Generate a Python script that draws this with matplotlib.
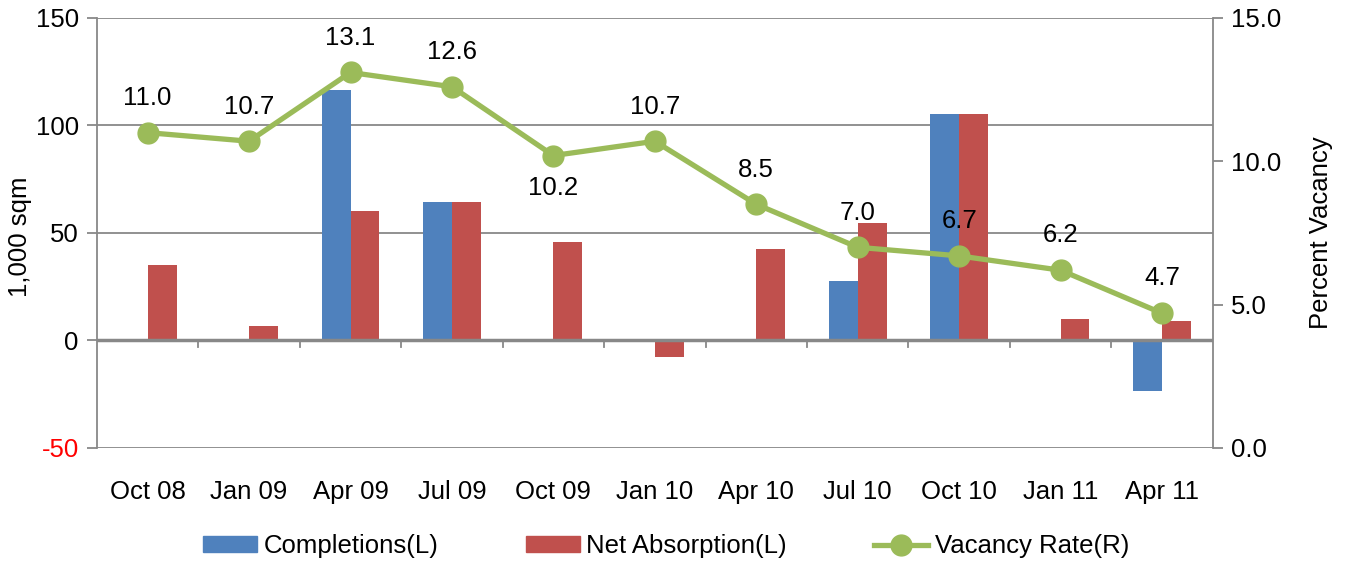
import numpy as np
import matplotlib.pyplot as plt
from matplotlib.lines import Line2D
from matplotlib.patches import Patch

plt.rcParams['font.family'] = ['Liberation Sans', 'DejaVu Sans']
plt.rcParams['axes.unicode_minus'] = False

quarters = ['Oct 08', 'Jan 09', 'Apr 09', 'Jul 09', 'Oct 09', 'Jan 10',
            'Apr 10', 'Jul 10', 'Oct 10', 'Jan 11', 'Apr 11']
completions = [0, 0, 116.5, 64.5, 0, 0, 0, 27.5, 105.5, 0, -23.5]
net_absorption = [35, 6.5, 60, 64.5, 46, -7.5, 42.5, 54.5, 105.5, 10, 9]
vacancy = [11.0, 10.7, 13.1, 12.6, 10.2, 10.7, 8.5, 7.0, 6.7, 6.2, 4.7]

blue = '#4F81BD'
red = '#C0504D'
green = '#9BBB59'
grey = '#888888'
fs = 18.5

fig = plt.figure(figsize=(13.46, 5.62), dpi=100)
ax = fig.add_axes([0.072, 0.203, 0.829, 0.765])
ax2 = ax.twinx()

x = np.arange(len(quarters))
w = 0.285
ax.bar(x - w / 2, completions, w, color=blue, zorder=3)
ax.bar(x + w / 2, net_absorption, w, color=red, zorder=3)

ax.set_xlim(-0.5, len(quarters) - 0.5)
ax.set_ylim(-50, 150)
ax.set_yticks([-50, 0, 50, 100, 150])
ax.yaxis.grid(True, color=grey, linewidth=1.3, zorder=0)
ax.axhline(0, color=grey, linewidth=2.5, zorder=4)
for s in ['top', 'right', 'bottom']:
    ax.spines[s].set_visible(False)
ax.spines['left'].set_color(grey)
ax.spines['left'].set_linewidth(1.3)
ax.tick_params(axis='y', colors=grey, length=7, width=1.3, labelsize=fs,
               labelcolor='black', pad=6)
ax.get_yticklabels()[0].set_color('red')
ax.set_ylabel('1,000 sqm', fontsize=fs)
ax.yaxis.set_label_coords(-0.058, 0.49)

# category labels below plot, tick marks at boundaries on zero line
ax.set_xticks([])
for i, q in enumerate(quarters):
    ax.text(i, -65, q, ha='center', va='top', fontsize=fs, clip_on=False)
for b in np.arange(0.5, len(quarters) - 0.5):
    ax.plot([b, b], [0, -3], color=grey, linewidth=1.3, zorder=4)

ax2.plot(x, vacancy, color=green, linewidth=3.8, marker='o', markersize=15,
         zorder=5)
ax2.set_ylim(0, 15)
ax2.set_yticks([0, 5, 10, 15])
ax2.set_yticklabels(['0.0', '5.0', '10.0', '15.0'])
for s in ['top', 'left', 'bottom']:
    ax2.spines[s].set_visible(False)
ax2.spines['right'].set_color(grey)
ax2.spines['right'].set_linewidth(1.3)
ax2.tick_params(axis='y', colors=grey, length=7, width=1.3, labelsize=fs,
                labelcolor='black', pad=6)
ax2.set_ylabel('Percent Vacancy', fontsize=fs, labelpad=20)

for i, v in enumerate(vacancy):
    off = -23 if quarters[i] == 'Oct 09' else 25
    ax2.annotate(f'{v:.1f}', (i, v), xytext=(0, off), textcoords='offset points',
                 ha='center', va='center', fontsize=fs)

handles = [Patch(color=blue), Patch(color=red),
           Line2D([0], [0], color=green, linewidth=3.8, marker='o', markersize=15)]
labels = ['Completions(L)', 'Net Absorption(L)', 'Vacancy Rate(R)']
fig.legend(handles, labels, loc='center', bbox_to_anchor=(0.495, 0.028),
           ncol=3, frameon=False, fontsize=fs, handlelength=2.1,
           handleheight=0.6, columnspacing=3.4, handletextpad=0.25)

fig.savefig('out.png', dpi=100)
